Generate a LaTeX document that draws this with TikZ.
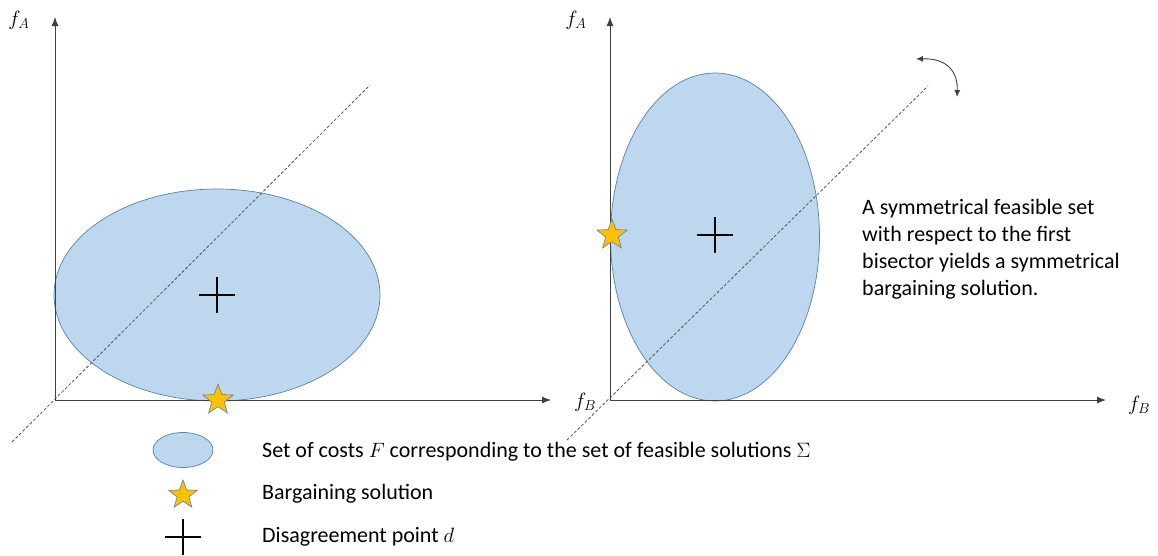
\documentclass[tikz,border=0pt]{standalone}
\usepackage{fontspec}
\setmainfont{Carlito}
\usepackage{tikz}
\usetikzlibrary{arrows.meta,positioning,shapes.geometric,shapes.misc}
\definecolor{SetFill}{HTML}{BDD7EE}
\definecolor{SetLine}{HTML}{5B80A8}
\definecolor{StarFill}{HTML}{FFC000}
\definecolor{AxisGray}{HTML}{404040}
\definecolor{DashGray}{HTML}{555555}

\begin{document}
\begin{tikzpicture}[
  x=1pt, y=-1pt,
  >={Latex[length=9pt,width=7pt]},
  % ── feasible set (ellipse) ───────────────────────────────────────────────
  feasible/.style={
    shape=ellipse, draw=SetLine, fill=SetFill, line width=0.7pt,
    inner sep=0pt
  },
  % ── bargaining solution (star) ───────────────────────────────────────────
  bargain/.style={
    shape=star, star points=5, star point ratio=2.4,
    draw=SetLine, fill=StarFill, line width=0.6pt,
    minimum size=32pt, inner sep=0pt
  },
  % ── disagreement point (upright cross) ───────────────────────────────────
  disagree/.style={
    shape=cross out, draw=black, line width=2.2pt, rotate=45,
    minimum size=22.6pt, inner sep=0pt
  },
  % ── text ─────────────────────────────────────────────────────────────────
  axlabel/.style={font=\fontsize{21}{23}\selectfont, inner sep=0pt},
  note/.style={font=\fontsize{22}{27}\selectfont, align=left, anchor=north west, inner sep=0pt},
  % ── lines ────────────────────────────────────────────────────────────────
  axis/.style={->, draw=AxisGray, line width=0.9pt},
  bisector/.style={draw=DashGray, line width=0.8pt, dash pattern=on 3pt off 2pt},
]
\useasboundingbox (0,0) rectangle (1158,555);

%% ── Left panel ────────────────────────────────────────────────────────────
\coordinate (OL) at (55,400);
\coordinate (YL) at (55,17);
\coordinate (XL) at (551,400);
\node[feasible, minimum width=326pt, minimum height=212pt] (FL) at (217,295) {};
\draw[bisector] (12,442) coordinate (BL1) -- (370,85) coordinate (BL2);
\draw[axis] (OL) -- (YL);
\draw[axis] (OL) -- (XL);
\node[disagree] (DL) at (217,295) {};
\node[bargain] (SL) at (218,400) {};
\node[axlabel] (fAL) at (19,20) {$f_A$};
\node[axlabel] (fBL) at (585,402) {$f_B$};

%% ── Right panel ───────────────────────────────────────────────────────────
\coordinate (OR) at (610,400);
\coordinate (YR) at (610,17);
\coordinate (XR) at (1106,400);
\node[feasible, minimum width=209pt, minimum height=328pt] (FR) at (715,237) {};
\draw[bisector] (567,440) coordinate (BR1) -- (928,86) coordinate (BR2);
\draw[axis] (OR) -- (YR);
\draw[axis] (OR) -- (XR);
\node[disagree] (DR) at (715,235) {};
\node[bargain] (SR) at (612,235) {};
\node[axlabel] (fAR) at (576,20) {$f_A$};
\node[axlabel] (fBR) at (1139,405) {$f_B$};

%% ── Rotation hint ─────────────────────────────────────────────────────────
\coordinate (RT1) at (916,59);
\coordinate (RT2) at (957,97);
\draw[<->, draw=AxisGray, line width=0.9pt, >={Latex[length=7pt,width=6pt]}]
  (RT1) .. controls (950,58) and (958,75) .. (RT2);

\node[note] (msg) at (862,199)
  {A symmetrical feasible set\\with respect to the first\\bisector yields a symmetrical\\bargaining solution.};

%% ── Legend ────────────────────────────────────────────────────────────────
\node[feasible, minimum width=60pt, minimum height=35pt] (LF) at (183,450) {};
\node[bargain, minimum size=30pt] (LS) at (183,495) {};
\node[disagree] (LD) at (183,537) {};
\node[note, anchor=west] (tF) at (262,452)
  {Set of costs $F$ corresponding to the set of feasible solutions $\Sigma$};
\node[note, anchor=west] (tS) at (262,494) {Bargaining solution};
\node[note, anchor=west] (tD) at (262,537) {Disagreement point $d$};

\end{tikzpicture}
\end{document}
